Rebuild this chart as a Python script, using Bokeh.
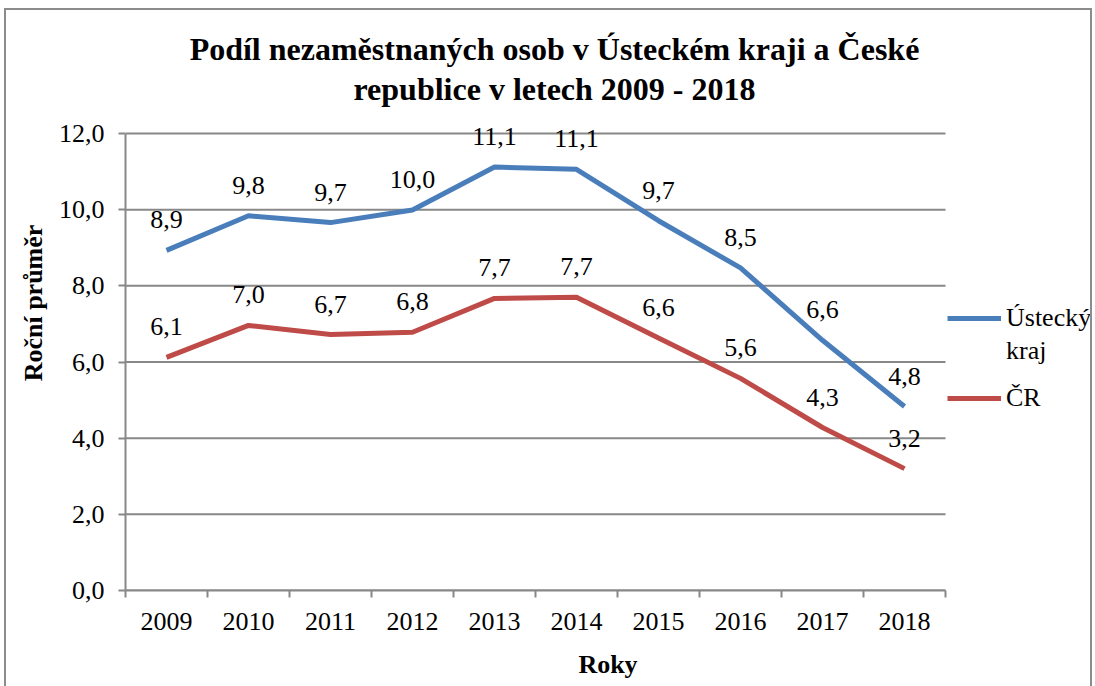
from bokeh.plotting import figure
from bokeh.models import (FixedTicker, ColumnDataSource, LabelSet, Legend, LegendItem,
                          Label, Range1d)
from bokeh.embed import file_html
from bokeh.resources import INLINE

years = ["2009", "2010", "2011", "2012", "2013", "2014", "2015", "2016", "2017", "2018"]
ustecky = [8.93, 9.84, 9.66, 9.99, 11.12, 11.06, 9.71, 8.47, 6.57, 4.83]
cr = [6.12, 6.96, 6.72, 6.78, 7.67, 7.70, 6.63, 5.57, 4.28, 3.20]
series_names = ["Ústecký kraj", "ČR"]
y_ticks = [0, 2, 4, 6, 8, 10, 12]
title_lines = ["Podíl nezaměstnaných osob v Ústeckém kraji a České",
               "republice v letech 2009 - 2018"]

FONT = "Liberation Serif"
BLUE = "#4A7EBB"
RED = "#BE4B48"
GRID = "#888888"
FS = "26px"

n = len(years)
ymax = max(y_ticks)
xpos = [i + 0.5 for i in range(n)]

# plot-area geometry: the frame is extended up/right so that titles, legend and
# data labels are not clipped; axes/grid are bounded to the data area.
PX_X = 82.0            # px per category
PX_Y = 457.0 / ymax    # px per y unit
FW, FH = 965, 575

def fmt(v):
    return f"{v:.1f}".replace(".", ",")

p = figure(width=1084, height=676, output_backend="svg", toolbar_location=None,
           x_range=Range1d(0, FW / PX_X), y_range=Range1d(0, FH / PX_Y),
           frame_width=FW, frame_height=FH,
           min_border_left=119, min_border_top=5, min_border_right=0, min_border_bottom=96)
p.styles = {"border": "2px solid #8c8c8c", "margin-left": "4px", "margin-top": "8px"}
p.outline_line_color = None
p.background_fill_color = "white"
p.border_fill_color = "white"

# Title lines (screen units measured from bottom-left of the frame)
for txt, yy in zip(title_lines, [542, 502]):
    p.add_layout(Label(x=429, y=yy, x_units="screen", y_units="screen", text=txt,
                       text_align="center", text_baseline="alphabetic", text_font=FONT,
                       text_font_size="32px", text_font_style="bold", text_color="black"))

# Axes
p.xaxis.bounds = (0, n)
p.xaxis.ticker = FixedTicker(ticks=xpos, minor_ticks=list(range(n + 1)))
p.xaxis.major_label_overrides = {x: y for x, y in zip(xpos, years)}
p.xaxis.major_tick_out = 0
p.xaxis.major_tick_in = 0
p.xaxis.minor_tick_out = 7
p.xaxis.minor_tick_in = 0
p.xaxis.minor_tick_line_color = GRID
p.xaxis.minor_tick_line_width = 2
p.xaxis.axis_line_color = GRID
p.xaxis.axis_line_width = 2
p.xaxis.major_label_standoff = 15
p.xaxis.axis_label = "Roky"
p.xaxis.axis_label_standoff = 17

p.yaxis.bounds = (0, ymax)
p.yaxis.ticker = FixedTicker(ticks=y_ticks)
p.yaxis.major_label_overrides = {v: fmt(v) for v in y_ticks}
p.yaxis.major_tick_out = 7
p.yaxis.major_tick_in = 0
p.yaxis.minor_tick_line_color = None
p.yaxis.major_tick_line_color = GRID
p.yaxis.major_tick_line_width = 2
p.yaxis.axis_line_color = GRID
p.yaxis.axis_line_width = 2
p.yaxis.major_label_standoff = 14
p.yaxis.axis_label = "Roční průměr"
p.yaxis.axis_label_standoff = 8

for ax in (p.xaxis, p.yaxis):
    ax.major_label_text_font = FONT
    ax.major_label_text_font_size = FS
    ax.major_label_text_color = "black"
    ax.axis_label_text_font = FONT
    ax.axis_label_text_font_size = FS
    ax.axis_label_text_font_style = "bold"
    ax.axis_label_text_color = "black"

p.xgrid.visible = False
p.ygrid.visible = False
# horizontal gridlines across the data area only
p.segment(x0=[0] * len(y_ticks), x1=[n] * len(y_ticks), y0=y_ticks, y1=y_ticks,
          line_color=GRID, line_width=2)

src_u = ColumnDataSource(dict(x=xpos, y=ustecky, lab=[fmt(v) for v in ustecky]))
src_c = ColumnDataSource(dict(x=xpos, y=cr, lab=[fmt(v) for v in cr]))

r_u = p.line("x", "y", source=src_u, line_color=BLUE, line_width=5)
r_c = p.line("x", "y", source=src_c, line_color=RED, line_width=5)
# invisible renderer used for the wrapped second line of the first legend entry
r_blank = p.line(x=[], y=[], line_alpha=0)

for src in (src_u, src_c):
    ls = LabelSet(x="x", y="y", text="lab", source=src, text_align="center",
                  text_baseline="alphabetic", y_offset=22, text_font=FONT,
                  text_font_size=FS, text_color="black")
    p.add_layout(ls)

first_words = series_names[0].split(" ")
leg_common = dict(label_text_font=FONT, label_text_font_size=FS, label_text_color="black",
                  glyph_width=54, glyph_height=26, label_height=26, label_standoff=5,
                  padding=0, margin=0, spacing=3, border_line_color=None,
                  background_fill_alpha=0)
legend1 = Legend(items=[LegendItem(label=first_words[0], renderers=[r_u]),
                        LegendItem(label=" ".join(first_words[1:]), renderers=[r_blank])],
                 location=(822, 224), **leg_common)
legend2 = Legend(items=[LegendItem(label=series_names[1], renderers=[r_c])],
                 location=(822, 177), **leg_common)
p.add_layout(legend1)
p.add_layout(legend2)

open("out.html", "w").write(file_html(p, INLINE))
